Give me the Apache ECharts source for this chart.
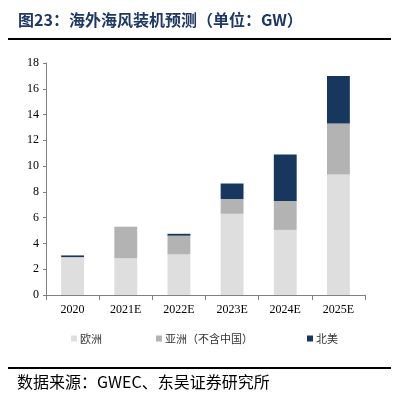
<!DOCTYPE html>
<html><head><meta charset="utf-8">
<script src="https://cdn.jsdelivr.net/npm/echarts@6/dist/echarts.min.js"></script>
<style>html,body{margin:0;padding:0;background:#fff}#c{width:397px;height:409px}</style>
</head><body><div id="c"></div>
<script>
const categories = ['2020','2021E','2022E','2023E','2024E','2025E'];
const europe = [2.9, 2.85, 3.15, 6.3, 5.05, 9.35];
const asia = [0.05, 2.45, 1.45, 1.15, 2.25, 3.95];
const northAmerica = [0.12, 0, 0.15, 1.2, 3.6, 3.7];
const yTicks = [0, 2, 4, 6, 8, 10, 12, 14, 16, 18];
const seriesNames = ['欧洲', '亚洲（不含中国）', '北美'];
const colors = ['#dedede', '#b3b3b3', '#17375e'];

const chart = echarts.init(document.getElementById('c'), null, {renderer:'canvas'});
const serif = '"Liberation Serif","DejaVu Serif",serif';
const cjk = '"Noto Sans CJK SC",sans-serif';
chart.setOption({
  animation:false,
  grid:{left:46, right:32, top:63, bottom:114, containLabel:false},
  legend:{
    left:66, top:328, itemWidth:6, itemHeight:6, itemGap:54, icon:'rect',
    textStyle:{fontFamily:cjk, fontSize:11, color:'#333', padding:[0,0,0,-2]},
    data:seriesNames
  },
  xAxis:{
    type:'category', data:categories,
    axisLine:{lineStyle:{color:'#808080', width:1}},
    axisTick:{show:true, length:5, lineStyle:{color:'#808080'}},
    axisLabel:{fontFamily:serif, fontSize:12, color:'#000', margin:9}
  },
  yAxis:{
    type:'value', min:yTicks[0], max:yTicks[yTicks.length-1], interval:2,
    axisLine:{show:true, lineStyle:{color:'#808080'}},
    axisTick:{show:true, length:3, lineStyle:{color:'#808080'}},
    splitLine:{show:false},
    axisLabel:{fontFamily:serif, fontSize:12, color:'#000', margin:7}
  },
  series:[
    {name:seriesNames[0], type:'bar', stack:'t', data:europe, barWidth:'43%', itemStyle:{color:colors[0]}},
    {name:seriesNames[1], type:'bar', stack:'t', data:asia, itemStyle:{color:colors[1]}},
    {name:seriesNames[2], type:'bar', stack:'t', data:northAmerica, itemStyle:{color:colors[2]}}
  ],
  graphic:[
    {type:'text', left:18, top:12, style:{text:'图23：海外海风装机预测（单位：GW）', fontFamily:cjk, fontSize:16, fontWeight:'bold', fill:'#1f3864'}},
    {type:'rect', shape:{x:8, y:38, width:383, height:2}, style:{fill:'#000'}},
    {type:'rect', shape:{x:8, y:367, width:383, height:2}, style:{fill:'#000'}},
    {type:'text', left:17, top:374, style:{text:'数据来源：GWEC、东吴证券研究所', fontFamily:cjk, fontSize:16, fill:'#000'}}
  ]
});
</script></body></html>
